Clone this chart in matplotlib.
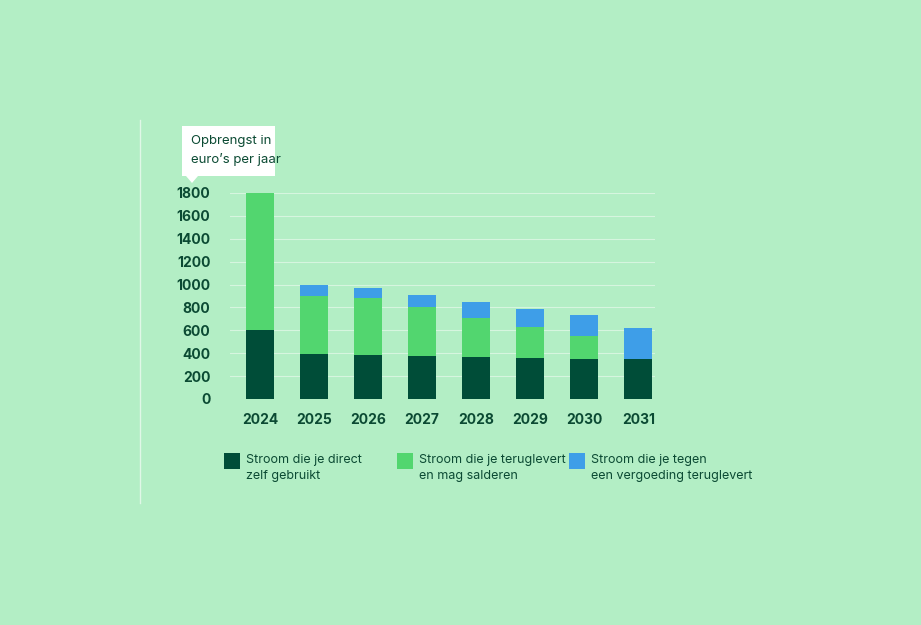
import matplotlib
matplotlib.use("Agg")
import matplotlib.pyplot as plt
from matplotlib.patches import Rectangle, Polygon

years = ["2024", "2025", "2026", "2027", "2028", "2029", "2030", "2031"]
direct = [600, 390, 385, 376, 367, 358, 350, 350]
salderen = [1250, 510, 498, 428, 341, 271, 201, 0]
vergoeding = [0, 96, 87, 105, 140, 158, 183, 270]
yticks = [0, 200, 400, 600, 800, 1000, 1200, 1400, 1600, 1800]

BG = "#b3eec5"; DARK = "#004d38"; GREEN = "#52d66f"; BLUE = "#3e9ee8"; TXT = "#0b4a33"
W, H = 921, 625
fig = plt.figure(figsize=(W/100, H/100), dpi=100, facecolor=BG)
ax = fig.add_axes([230/W, (H-399)/H, (655-230)/W, 206/H])
ax.set_facecolor(BG)
x = range(len(years))
bw = 0.52
ax.bar(x, direct, bw, color=DARK, zorder=3)
ax.bar(x, salderen, bw, bottom=direct, color=GREEN, zorder=3)
bot2 = [a + b for a, b in zip(direct, salderen)]
ax.bar(x, vergoeding, bw, bottom=bot2, color=BLUE, zorder=3)
ax.set_xlim(-0.556, 7.31)
ax.set_ylim(0, 1800)
ax.set_yticks(yticks)
ax.set_yticklabels([str(t) for t in yticks], fontsize=10, color=TXT, fontweight="bold", fontfamily="Inter")
ax.set_xticks(list(x))
ax.set_xticklabels(years, fontsize=10, color=TXT, fontweight="bold", fontfamily="Inter")
ax.tick_params(length=0)
ax.tick_params(axis="y", pad=14)
ax.tick_params(axis="x", pad=10)
for yv in yticks[1:]:
    ax.axhline(yv, color="#d6f5df", lw=0.8, zorder=1)
for s in ax.spines.values():
    s.set_visible(False)

# vertical line
fig.add_artist(plt.Line2D([140/W, 140/W], [(H-120)/H, (H-503)/H], color="#e0f7e7", lw=1))
# callout
fig.add_artist(Rectangle((182/W, (H-176)/H), 93/W, 50/H, facecolor="white", edgecolor="none"))
fig.add_artist(Polygon([(186/W, (H-176)/H), (198/W, (H-176)/H), (192/W, (H-183)/H)], facecolor="white", edgecolor="none"))
fig.text(191/W, (H-141)/H, "Opbrengst in", fontsize=9.5, color=TXT, fontfamily="Inter", va="center")
fig.text(191/W, (H-159)/H, "euro’s per jaar", fontsize=9.5, color=TXT, fontfamily="Inter", va="center")

# legend
items = [(224, DARK, ["Stroom die je direct", "zelf gebruikt"]),
         (397, GREEN, ["Stroom die je teruglevert", "en mag salderen"]),
         (569, BLUE, ["Stroom die je tegen", "een vergoeding teruglevert"])]
for lx, c, lines in items:
    fig.add_artist(Rectangle((lx/W, (H-469)/H), 16/W, 16/H, facecolor=c, edgecolor="none"))
    fig.text((lx+22)/W, (H-460)/H, lines[0], fontsize=9, color=TXT, fontfamily="Inter", va="center")
    fig.text((lx+22)/W, (H-476)/H, lines[1], fontsize=9, color=TXT, fontfamily="Inter", va="center")

fig.savefig("out.png", dpi=100, facecolor=BG)
